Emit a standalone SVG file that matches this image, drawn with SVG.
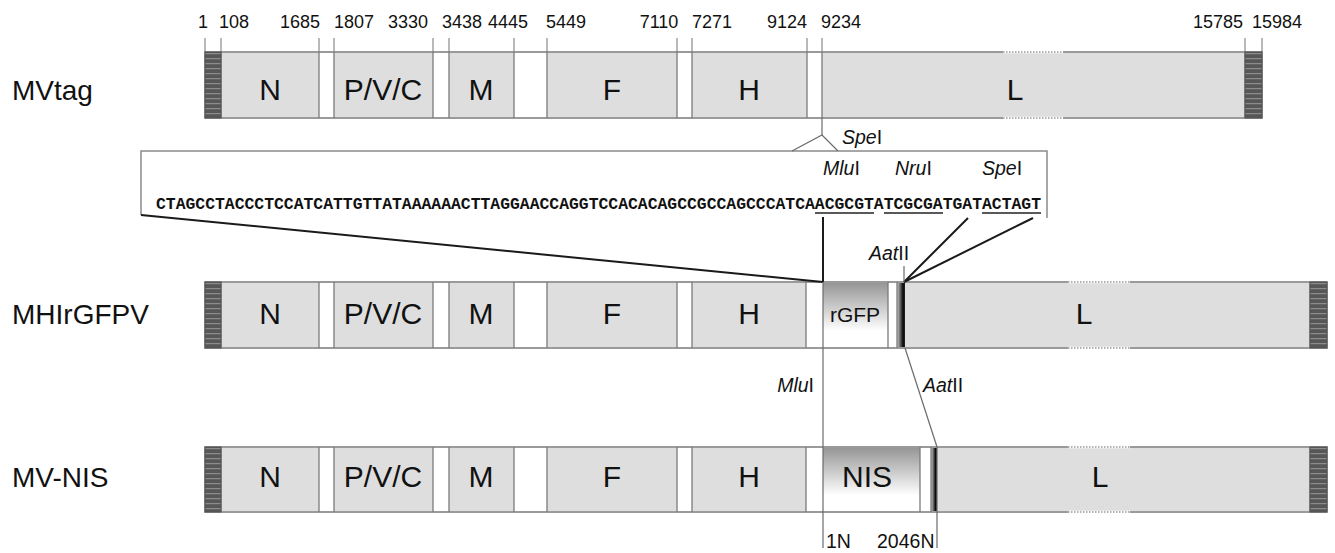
<svg xmlns="http://www.w3.org/2000/svg" width="1335" height="553" viewBox="0 0 1335 553">
<style>
.lbl{font-family:"Liberation Sans",Arial,sans-serif;fill:#111}
.row{font-size:28px}
.seg{font-size:30px;text-anchor:middle}
.num{font-size:18px;text-anchor:middle}
.enz{font-size:19.5px}
.it{font-style:italic}
.bg{fill:#fff;stroke:#7a7a7a;stroke-width:1.5}
.gs{fill:#dedede}
.sep{stroke:#7a7a7a;stroke-width:1.3}
.hat{fill:url(#hatch);stroke:#555;stroke-width:1}
.tick{stroke:#8a8a8a;stroke-width:1.2}
.dot{stroke:#fff;stroke-width:2.5}
.dotg{stroke:#999;stroke-width:1.5;stroke-dasharray:1.5 1.5}
.dark{stroke:#1a1a1a;stroke-width:2;fill:none}
.thin{stroke:#6a6a6a;stroke-width:1.2;fill:none}
.box{stroke:#8a8a8a;stroke-width:1.5;fill:none}
.seq{font-family:"Liberation Mono","Courier New",monospace;font-weight:bold;font-size:16.4px;fill:#111}
</style>
<defs>
<pattern id="hatch" patternUnits="userSpaceOnUse" width="20" height="5">
<rect width="20" height="5" fill="#575757"/>
<rect y="3" width="20" height="1.2" fill="#8c8c8c"/>
</pattern>
<linearGradient id="vg" x1="0" y1="0" x2="0" y2="1">
<stop offset="0" stop-color="#969696"/>
<stop offset="0.75" stop-color="#ffffff"/>
<stop offset="1" stop-color="#ffffff"/>
</linearGradient>
<linearGradient id="hg" x1="0" y1="0" x2="1" y2="0">
<stop offset="0" stop-color="#d0d0d0"/>
<stop offset="0.4" stop-color="#666"/>
<stop offset="0.75" stop-color="#0a0a0a"/>
<stop offset="1" stop-color="#222"/>
</linearGradient>
</defs>
<rect width="1335" height="553" fill="#fff"/>

<!-- coordinate numbers -->
<g id="coords">
<g class="tick">
<line x1="205" y1="38" x2="205" y2="52"/><line x1="221" y1="38" x2="221" y2="52"/>
<line x1="319" y1="38" x2="319" y2="52"/><line x1="334" y1="38" x2="334" y2="52"/>
<line x1="433" y1="38" x2="433" y2="52"/><line x1="449" y1="38" x2="449" y2="52"/>
<line x1="514" y1="38" x2="514" y2="52"/><line x1="547" y1="38" x2="547" y2="52"/>
<line x1="677" y1="38" x2="677" y2="52"/><line x1="692" y1="38" x2="692" y2="52"/>
<line x1="807" y1="38" x2="807" y2="52"/><line x1="822" y1="38" x2="822" y2="52"/>
<line x1="1245" y1="38" x2="1245" y2="52"/><line x1="1262" y1="38" x2="1262" y2="52"/>
</g>
<g class="lbl num">
<text x="203" y="28">1</text><text x="234" y="28">108</text>
<text x="300" y="28">1685</text><text x="354" y="28">1807</text>
<text x="408" y="28">3330</text><text x="462" y="28">3438</text>
<text x="508" y="28">4445</text><text x="566" y="28">5449</text>
<text x="659" y="28">7110</text><text x="712" y="28">7271</text>
<text x="787" y="28">9124</text><text x="841" y="28">9234</text>
<text x="1218" y="28">15785</text><text x="1277" y="28">15984</text>
</g>
</g>

<!-- MVtag -->
<g id="mvtag">
<text class="lbl row" x="12" y="100">MVtag</text>
<rect class="bg" x="205" y="52" width="1057" height="66"/>
<g class="gs">
<rect x="221" y="53" width="98" height="64"/><rect x="334" y="53" width="99" height="64"/>
<rect x="449" y="53" width="65" height="64"/><rect x="547" y="53" width="130" height="64"/>
<rect x="692" y="53" width="115" height="64"/><rect x="822" y="53" width="423" height="64"/>
</g>
<g class="sep">
<line x1="221" y1="52" x2="221" y2="118"/><line x1="319" y1="52" x2="319" y2="118"/>
<line x1="334" y1="52" x2="334" y2="118"/><line x1="433" y1="52" x2="433" y2="118"/>
<line x1="449" y1="52" x2="449" y2="118"/><line x1="514" y1="52" x2="514" y2="118"/>
<line x1="547" y1="52" x2="547" y2="118"/><line x1="677" y1="52" x2="677" y2="118"/>
<line x1="692" y1="52" x2="692" y2="118"/><line x1="807" y1="52" x2="807" y2="118"/>
<line x1="822" y1="52" x2="822" y2="118"/><line x1="1245" y1="52" x2="1245" y2="118"/>
</g>
<line class="dot" x1="1003" y1="52" x2="1063" y2="52"/><line class="dotg" x1="1003" y1="52" x2="1063" y2="52"/>
<line class="dot" x1="1003" y1="118" x2="1063" y2="118"/><line class="dotg" x1="1003" y1="118" x2="1063" y2="118"/>
<rect class="hat" x="205" y="52" width="16" height="66"/>
<rect class="hat" x="1245" y="52" width="17" height="66"/>
<g class="lbl seg">
<text x="270" y="100">N</text><text x="383" y="100">P/V/C</text><text x="481" y="100">M</text>
<text x="612" y="100">F</text><text x="749" y="100">H</text><text x="1015" y="100">L</text>
</g>
</g>

<!-- MHIrGFPV -->
<g id="mhirgfpv">
<text class="lbl row" x="12" y="324">MHIrGFPV</text>
<rect class="bg" x="205" y="282" width="1122" height="66"/>
<g class="gs">
<rect x="221" y="283" width="98" height="64"/><rect x="334" y="283" width="99" height="64"/>
<rect x="449" y="283" width="65" height="64"/><rect x="547" y="283" width="130" height="64"/>
<rect x="692" y="283" width="114" height="64"/><rect x="905" y="283" width="405" height="64"/>
</g>
<rect x="823" y="283" width="65" height="64" fill="url(#vg)"/>
<rect x="897" y="283" width="8" height="64" fill="url(#hg)"/>
<g class="sep">
<line x1="221" y1="282" x2="221" y2="348"/><line x1="319" y1="282" x2="319" y2="348"/>
<line x1="334" y1="282" x2="334" y2="348"/><line x1="433" y1="282" x2="433" y2="348"/>
<line x1="449" y1="282" x2="449" y2="348"/><line x1="514" y1="282" x2="514" y2="348"/>
<line x1="547" y1="282" x2="547" y2="348"/><line x1="677" y1="282" x2="677" y2="348"/>
<line x1="692" y1="282" x2="692" y2="348"/><line x1="806" y1="282" x2="806" y2="348"/>
<line x1="888" y1="282" x2="888" y2="348"/><line x1="897" y1="282" x2="897" y2="348"/>
<line x1="1310" y1="282" x2="1310" y2="348"/>
</g>
<line class="dot" x1="1068" y1="282" x2="1130" y2="282"/><line class="dotg" x1="1068" y1="282" x2="1130" y2="282"/>
<line class="dot" x1="1068" y1="348" x2="1130" y2="348"/><line class="dotg" x1="1068" y1="348" x2="1130" y2="348"/>
<rect class="hat" x="205" y="282" width="16" height="66"/>
<rect class="hat" x="1310" y="282" width="17" height="66"/>
<g class="lbl seg">
<text x="270" y="324">N</text><text x="383" y="324">P/V/C</text><text x="481" y="324">M</text>
<text x="612" y="324">F</text><text x="749" y="324">H</text>
<text x="855" y="322" style="font-size:21px">rGFP</text><text x="1084" y="324">L</text>
</g>
</g>

<!-- MV-NIS -->
<g id="mvnis">
<text class="lbl row" x="12" y="487">MV-NIS</text>
<rect class="bg" x="205" y="447" width="1122" height="65"/>
<g class="gs">
<rect x="221" y="448" width="98" height="63"/><rect x="334" y="448" width="99" height="63"/>
<rect x="449" y="448" width="65" height="63"/><rect x="547" y="448" width="130" height="63"/>
<rect x="692" y="448" width="114" height="63"/><rect x="937" y="448" width="373" height="63"/>
</g>
<rect x="823" y="448" width="97" height="63" fill="url(#vg)"/>
<rect x="931" y="448" width="6" height="63" fill="url(#hg)"/>
<g class="sep">
<line x1="221" y1="447" x2="221" y2="512"/><line x1="319" y1="447" x2="319" y2="512"/>
<line x1="334" y1="447" x2="334" y2="512"/><line x1="433" y1="447" x2="433" y2="512"/>
<line x1="449" y1="447" x2="449" y2="512"/><line x1="514" y1="447" x2="514" y2="512"/>
<line x1="547" y1="447" x2="547" y2="512"/><line x1="677" y1="447" x2="677" y2="512"/>
<line x1="692" y1="447" x2="692" y2="512"/><line x1="806" y1="447" x2="806" y2="512"/>
<line x1="920" y1="447" x2="920" y2="512"/><line x1="931" y1="447" x2="931" y2="512"/>
<line x1="1310" y1="447" x2="1310" y2="512"/>
</g>
<line class="dot" x1="1068" y1="447" x2="1130" y2="447"/><line class="dotg" x1="1068" y1="447" x2="1130" y2="447"/>
<line class="dot" x1="1068" y1="512" x2="1130" y2="512"/><line class="dotg" x1="1068" y1="512" x2="1130" y2="512"/>
<rect class="hat" x="205" y="447" width="16" height="65"/>
<rect class="hat" x="1310" y="447" width="17" height="65"/>
<g class="lbl seg">
<text x="270" y="487">N</text><text x="383" y="487">P/V/C</text><text x="481" y="487">M</text>
<text x="612" y="487">F</text><text x="749" y="487">H</text>
<text x="867" y="487">NIS</text><text x="1100" y="487">L</text>
</g>
</g>

<!-- inset sequence -->
<g id="inset">
<polyline class="box" points="141,215 141,151 1047,151 1047,218"/>
<text class="seq" x="156" y="209" textLength="885" lengthAdjust="spacingAndGlyphs">CTAGCCTACCCTCCATCATTGTTATAAAAAACTTAGGAACCAGGTCCACACAGCCGCCAGCCCATCAACGCGTATCGCGATGATACTAGT</text>
<g stroke="#222" stroke-width="1.3">
<line x1="815" y1="213" x2="874" y2="213"/>
<line x1="884" y1="213" x2="943" y2="213"/>
<line x1="982" y1="213" x2="1041" y2="213"/>
</g>
<g class="lbl enz">
<text x="823" y="175"><tspan class="it">Mlu</tspan>I</text>
<text x="895" y="175"><tspan class="it">Nru</tspan>I</text>
<text x="982" y="175"><tspan class="it">Spe</tspan>I</text>
</g>
</g>

<!-- connectors -->
<g id="connectors">
<polyline class="thin" points="822,118 822,135"/>
<polyline class="thin" points="792,151 822,135 838,151"/>
<line class="dark" x1="141" y1="215" x2="823" y2="282"/>
<line class="dark" x1="823" y1="217" x2="823" y2="282"/>
<line class="thin" x1="823" y1="282" x2="823" y2="548"/>
<line class="dark" x1="968" y1="218" x2="904" y2="282"/>
<line class="dark" x1="1033" y1="218" x2="904" y2="282"/>
<line class="thin" x1="904" y1="266" x2="904" y2="282"/>
<line class="thin" x1="905" y1="348" x2="937" y2="447"/>
<line class="thin" x1="937" y1="447" x2="937" y2="548"/>
</g>

<g id="labels" class="lbl enz">
<text x="842" y="144"><tspan class="it">Spe</tspan>I</text>
<text x="869" y="260"><tspan class="it">Aat</tspan>II</text>
<text x="923" y="392"><tspan class="it">Aat</tspan>II</text>
<text x="814" y="392" text-anchor="end"><tspan class="it">Mlu</tspan>I</text>
<text x="826" y="548">1N</text>
<text x="877" y="548">2046N</text>
</g>
</svg>
